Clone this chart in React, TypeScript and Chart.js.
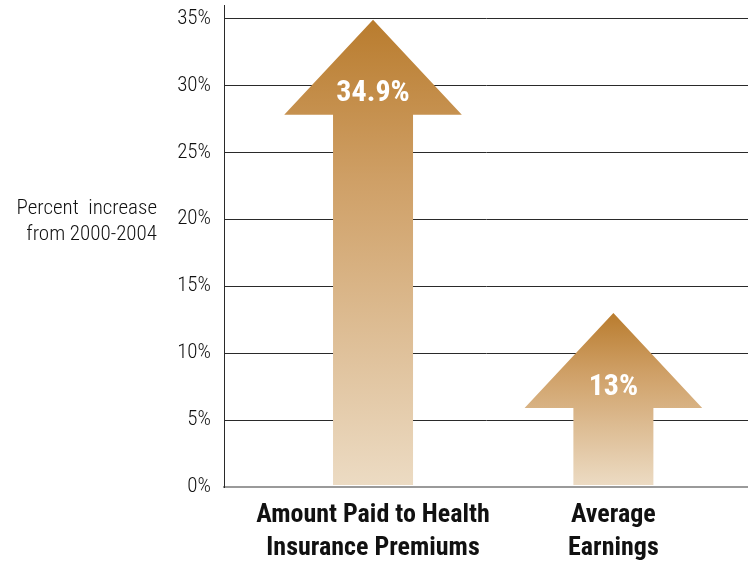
import React, { useEffect, useRef } from 'react';
import { Chart, registerables } from 'chart.js';

Chart.register(...registerables);

// ---- data ----
const categories: string[][] = [
  ['Amount Paid to Health', 'Insurance Premiums'],
  ['Average', 'Earnings'],
];
const categoryPositions = [0, 1];
const values = [34.9, 13];
const valueLabels = ['34.9%', '13%'];
const yTicks = [0, 5, 10, 15, 20, 25, 30, 35];
const yAxisTitle = ['Percent  increase', 'from 2000-2004'];

const FONT = "'Roboto Condensed', 'Liberation Sans Narrow', 'DejaVu Sans Condensed', sans-serif";

const arrowPlugin = {
  id: 'arrows',
  afterDatasetsDraw(chart: any) {
    const ctx = chart.ctx;
    const meta = chart.getDatasetMeta(0);
    meta.data.forEach((bar: any, i: number) => {
      const { x, y, base, width } = bar.getProps(['x', 'y', 'base', 'width'], true);
      const headH = 95;
      const headW = width * 2.22;
      const b = base - 1;
      const g = ctx.createLinearGradient(0, y, 0, b);
      g.addColorStop(0, '#B97C2E');
      g.addColorStop(0.35, '#CFA067');
      g.addColorStop(1, '#ECDBC3');
      ctx.save();
      ctx.fillStyle = g;
      ctx.beginPath();
      ctx.moveTo(x, y);
      ctx.lineTo(x + headW / 2, y + headH);
      ctx.lineTo(x + width / 2, y + headH);
      ctx.lineTo(x + width / 2, b);
      ctx.lineTo(x - width / 2, b);
      ctx.lineTo(x - width / 2, y + headH);
      ctx.lineTo(x - headW / 2, y + headH);
      ctx.closePath();
      ctx.fill();
      ctx.fillStyle = '#ffffff';
      ctx.font = `bold 30px ${FONT}`;
      ctx.textAlign = 'center';
      ctx.textBaseline = 'middle';
      ctx.fillText(valueLabels[i], x, y + headH * 0.78);
      ctx.restore();
    });
  },
};

const titlePlugin = {
  id: 'yTitle',
  afterDraw(chart: any) {
    const ctx = chart.ctx;
    const area = chart.chartArea;
    ctx.save();
    ctx.fillStyle = '#111';
    ctx.font = `300 21px ${FONT}`;
    ctx.textAlign = 'right';
    ctx.textBaseline = 'alphabetic';
    const x = area.left - 67;
    const y0 = area.top + (area.bottom - area.top) * 0.434;
    yAxisTitle.forEach((line, i) => ctx.fillText(line, x, y0 + i * 26));
    ctx.restore();
  },
};

export default function App() {
  const ref = useRef<HTMLCanvasElement | null>(null);
  useEffect(() => {
    if (!ref.current) return;
    const chart = new Chart(ref.current, {
      type: 'bar',
      data: {
        datasets: [
          {
            data: values.map((v, i) => ({ x: categoryPositions[i], y: v })) as any,
            backgroundColor: 'rgba(0,0,0,0)',
            barThickness: 80,
          },
        ],
      },
      options: {
        animation: false,
        responsive: true,
        maintainAspectRatio: false,
        layout: { padding: { top: 5, left: 0, right: 0, bottom: 0 } },
        plugins: { legend: { display: false }, tooltip: { enabled: false } },
        scales: {
          x: {
            type: 'linear',
            offset: false,
            min: -0.62,
            max: 1.56,
            afterBuildTicks: (s: any) => {
              s.ticks = categoryPositions.map((v) => ({ value: v }));
            },
            afterFit: (s: any) => {
              s.height = 74;
              s.paddingLeft = 0;
              s.paddingRight = 0;
            },
            grid: { display: false, drawTicks: false, offset: false },
            border: { color: '#9a9a9a', width: 2 },
            ticks: {
              autoSkip: false,
              maxRotation: 0,
              padding: 12,
              color: '#111',
              font: { family: FONT, size: 26, weight: 'bold', lineHeight: 1.27 },
              callback: (_v: any, i: number) => categories[i],
            },
          },
          y: {
            min: 0,
            max: 36,
            afterBuildTicks: (s: any) => {
              s.ticks = yTicks.map((v) => ({ value: v }));
            },
            afterFit: (s: any) => {
              s.width = 224;
              s.paddingTop = 0;
              s.paddingBottom = 0;
            },
            grid: {
              drawTicks: false,
              color: (c: any) => (c.tick && c.tick.value === 0 ? '#9a9a9a' : '#2a2a2a'),
              lineWidth: (c: any) => (c.tick && c.tick.value === 0 ? 2 : 1),
            },
            border: { color: '#2a2a2a', width: 1 },
            ticks: {
              padding: 13,
              color: '#111',
              font: { family: FONT, size: 21, weight: '300' },
              callback: (v: any) => `${v}%`,
            },
          },
        },
      },
      plugins: [arrowPlugin, titlePlugin],
    });
    return () => chart.destroy();
  }, []);
  return (
    <div style={{ position: 'fixed', left: 0, top: 0, width: 748, height: 561, background: '#fff' }}>
      <canvas ref={ref} />
    </div>
  );
}
